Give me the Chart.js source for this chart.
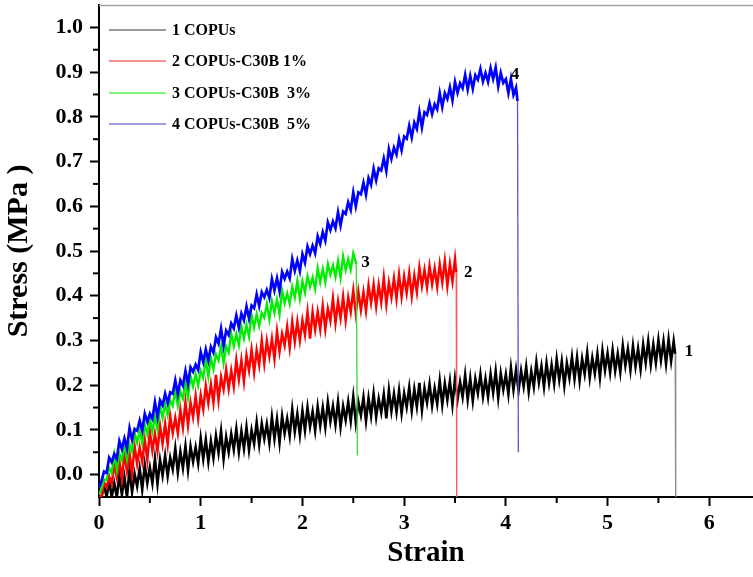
<!DOCTYPE html>
<html>
<head>
<meta charset="utf-8">
<script src="https://cdn.jsdelivr.net/npm/chart.js@4.4.1/dist/chart.umd.min.js"></script>
<style>
  html, body { margin: 0; padding: 0; background: #fff; }
  #wrap { width: 753px; height: 577px; }
</style>
</head>
<body>
<div id="wrap"><canvas id="myChart" width="753" height="577"></canvas></div>
<script>
/////////////////// DATA ///////////////////

// strain of the upper noise samples
const strain = [
  0, 0.05, 0.1, 0.15, 0.2, 0.25, 0.3, 0.35, 0.4, 0.45,
  0.5, 0.55, 0.6, 0.65, 0.7, 0.75, 0.8, 0.85, 0.9, 0.95,
  1.0, 1.05, 1.1, 1.15, 1.2, 1.25, 1.3, 1.35, 1.4, 1.45,
  1.5, 1.55, 1.6, 1.65, 1.7, 1.75, 1.8, 1.85, 1.9, 1.95,
  2.0, 2.05, 2.1, 2.15, 2.2, 2.25, 2.3, 2.35, 2.4, 2.45,
  2.5, 2.55, 2.6, 2.65, 2.7, 2.75, 2.8, 2.85, 2.9, 2.95,
  3.0, 3.05, 3.1, 3.15, 3.2, 3.25, 3.3, 3.35, 3.4, 3.45,
  3.5, 3.55, 3.6, 3.65, 3.7, 3.75, 3.8, 3.85, 3.9, 3.95,
  4.0, 4.05, 4.1, 4.15, 4.2, 4.25, 4.3, 4.35, 4.4, 4.45,
  4.5, 4.55, 4.6, 4.65, 4.7, 4.75, 4.8, 4.85, 4.9, 4.95,
  5.0, 5.05, 5.1, 5.15, 5.2, 5.25, 5.3, 5.35, 5.4, 5.45,
  5.5, 5.55, 5.6, 5.65
];
// strain of the lower noise samples (in between)
const strainHalf = [
  0.025, 0.075, 0.125, 0.175, 0.225, 0.275, 0.325, 0.375, 0.425, 0.475,
  0.525, 0.575, 0.625, 0.675, 0.725, 0.775, 0.825, 0.875, 0.925, 0.975,
  1.025, 1.075, 1.125, 1.175, 1.225, 1.275, 1.325, 1.375, 1.425, 1.475,
  1.525, 1.575, 1.625, 1.675, 1.725, 1.775, 1.825, 1.875, 1.925, 1.975,
  2.025, 2.075, 2.125, 2.175, 2.225, 2.275, 2.325, 2.375, 2.425, 2.475,
  2.525, 2.575, 2.625, 2.675, 2.725, 2.775, 2.825, 2.875, 2.925, 2.975,
  3.025, 3.075, 3.125, 3.175, 3.225, 3.275, 3.325, 3.375, 3.425, 3.475,
  3.525, 3.575, 3.625, 3.675, 3.725, 3.775, 3.825, 3.875, 3.925, 3.975,
  4.025, 4.075, 4.125, 4.175, 4.225, 4.275, 4.325, 4.375, 4.425, 4.475,
  4.525, 4.575, 4.625, 4.675, 4.725, 4.775, 4.825, 4.875, 4.925, 4.975,
  5.025, 5.075, 5.125, 5.175, 5.225, 5.275, 5.325, 5.375, 5.425, 5.475,
  5.525, 5.575, 5.625
];

// 1 COPUs
const stress1 = [
  -0.050, -0.024, -0.014, -0.019, -0.002, -0.006, 0.011, 0.002, 0.014, 0.022,
  0.016, 0.036, 0.033, 0.042, 0.038, 0.059, 0.051, 0.064, 0.063, 0.061,
  0.081, 0.078, 0.075, 0.087, 0.097, 0.084, 0.091, 0.102, 0.097, 0.106,
  0.099, 0.117, 0.114, 0.113, 0.129, 0.124, 0.131, 0.125, 0.146, 0.136,
  0.143, 0.150, 0.141, 0.152, 0.150, 0.162, 0.153, 0.163, 0.153, 0.163,
  0.174, 0.162, 0.173, 0.171, 0.181, 0.170, 0.180, 0.189, 0.181, 0.188,
  0.182, 0.195, 0.191, 0.205, 0.193, 0.202, 0.193, 0.210, 0.204, 0.209,
  0.214, 0.207, 0.223, 0.215, 0.214, 0.224, 0.214, 0.225, 0.231, 0.226,
  0.224, 0.239, 0.234, 0.232, 0.241, 0.231, 0.251, 0.242, 0.249, 0.245,
  0.258, 0.253, 0.249, 0.263, 0.262, 0.259, 0.273, 0.261, 0.270, 0.277,
  0.271, 0.278, 0.270, 0.288, 0.281, 0.288, 0.282, 0.291, 0.298, 0.291,
  0.301, 0.298, 0.302, 0.298
];
const stress1Half = [
  -0.050, -0.050, -0.050, -0.050, -0.045, -0.050, -0.039, -0.026, -0.033, -0.019,
  -0.019, -0.021, -0.002, -0.003, 0.012, 0.005, 0.015, 0.010, 0.029, 0.025,
  0.035, 0.029, 0.037, 0.049, 0.035, 0.050, 0.056, 0.051, 0.058, 0.055,
  0.069, 0.067, 0.080, 0.071, 0.080, 0.072, 0.092, 0.087, 0.096, 0.089,
  0.099, 0.107, 0.099, 0.109, 0.106, 0.119, 0.112, 0.107, 0.122, 0.120,
  0.117, 0.133, 0.120, 0.131, 0.129, 0.139, 0.126, 0.142, 0.140, 0.137,
  0.151, 0.143, 0.152, 0.144, 0.161, 0.154, 0.158, 0.156, 0.167, 0.156,
  0.168, 0.174, 0.168, 0.165, 0.182, 0.175, 0.174, 0.183, 0.172, 0.190,
  0.180, 0.190, 0.188, 0.197, 0.186, 0.196, 0.206, 0.196, 0.205, 0.203,
  0.212, 0.199, 0.216, 0.214, 0.210, 0.225, 0.217, 0.226, 0.217, 0.233,
  0.228, 0.232, 0.229, 0.244, 0.234, 0.242, 0.236, 0.250, 0.246, 0.250,
  0.256, 0.248, 0.254
];
const tailStrain1 = [5.665, 5.67];
const tailStress1 = [0.270, -0.05];

// 2 COPUs-C30B 1%
const stress2 = [
  -0.050, -0.017, -0.005, 0.024, 0.030, 0.049, 0.047, 0.064, 0.061, 0.078,
  0.096, 0.091, 0.109, 0.114, 0.131, 0.127, 0.145, 0.162, 0.161, 0.176,
  0.178, 0.199, 0.202, 0.223, 0.218, 0.235, 0.233, 0.256, 0.256, 0.267,
  0.279, 0.278, 0.300, 0.299, 0.304, 0.320, 0.315, 0.331, 0.342, 0.342,
  0.345, 0.364, 0.363, 0.364, 0.377, 0.371, 0.394, 0.387, 0.398, 0.396,
  0.412, 0.409, 0.408, 0.423, 0.425, 0.424, 0.440, 0.429, 0.439, 0.447,
  0.443, 0.451, 0.445, 0.463, 0.458, 0.466, 0.461, 0.470, 0.478, 0.471,
  0.482
];
const stress2Half = [
  -0.050, -0.029, -0.021, -0.006, -0.010, 0.008, 0.002, 0.024, 0.029, 0.033,
  0.054, 0.053, 0.069, 0.068, 0.093, 0.093, 0.105, 0.110, 0.129, 0.126,
  0.146, 0.160, 0.161, 0.167, 0.191, 0.192, 0.197, 0.213, 0.208, 0.233,
  0.229, 0.245, 0.249, 0.264, 0.259, 0.275, 0.289, 0.284, 0.297, 0.300,
  0.313, 0.304, 0.324, 0.325, 0.325, 0.344, 0.339, 0.350, 0.345, 0.364,
  0.361, 0.368, 0.366, 0.384, 0.376, 0.386, 0.381, 0.396, 0.393, 0.398,
  0.406, 0.399, 0.408, 0.422, 0.419, 0.426, 0.420, 0.430, 0.422, 0.432
];
const tailStrain2 = [3.512, 3.517];
const tailStress2 = [0.452, -0.05];

// 3 COPUs-C30B 3%
const stress3 = [
  -0.045, -0.011, 0.015, 0.045, 0.047, 0.068, 0.068, 0.095, 0.097, 0.112,
  0.126, 0.129, 0.155, 0.158, 0.167, 0.187, 0.186, 0.206, 0.221, 0.225,
  0.232, 0.257, 0.261, 0.269, 0.287, 0.287, 0.316, 0.315, 0.331, 0.335,
  0.357, 0.359, 0.362, 0.382, 0.388, 0.392, 0.412, 0.406, 0.420, 0.433,
  0.433, 0.444, 0.441, 0.462, 0.460, 0.471, 0.468, 0.478, 0.488, 0.482,
  0.495
];
const stress3Half = [
  -0.031, -0.012, 0.004, 0.010, 0.032, 0.034, 0.052, 0.071, 0.070, 0.090,
  0.096, 0.101, 0.127, 0.133, 0.154, 0.154, 0.170, 0.172, 0.197, 0.199,
  0.216, 0.219, 0.235, 0.255, 0.249, 0.273, 0.287, 0.289, 0.304, 0.308,
  0.329, 0.332, 0.351, 0.347, 0.362, 0.358, 0.383, 0.382, 0.396, 0.393,
  0.407, 0.420, 0.415, 0.430, 0.430, 0.447, 0.442, 0.440, 0.457, 0.458
];
const tailStrain3 = [2.53, 2.54];
const tailStress3 = [0.470, 0.043];

// 4 COPUs-C30B 5%
const stress4 = [
  -0.030, 0.007, 0.038, 0.046, 0.075, 0.081, 0.104, 0.102, 0.121, 0.136,
  0.136, 0.162, 0.166, 0.181, 0.184, 0.211, 0.211, 0.232, 0.240, 0.246,
  0.274, 0.280, 0.286, 0.307, 0.326, 0.322, 0.338, 0.356, 0.360, 0.376,
  0.378, 0.403, 0.408, 0.413, 0.437, 0.439, 0.453, 0.454, 0.482, 0.479,
  0.493, 0.510, 0.512, 0.533, 0.542, 0.564, 0.566, 0.587, 0.588, 0.609,
  0.631, 0.631, 0.653, 0.663, 0.684, 0.685, 0.707, 0.728, 0.731, 0.750,
  0.756, 0.780, 0.787, 0.811, 0.810, 0.830, 0.828, 0.853, 0.853, 0.866,
  0.878, 0.875, 0.894, 0.891, 0.893, 0.907, 0.898, 0.909, 0.910, 0.898,
  0.884, 0.885, 0.865
];
const stress4Half = [
  -0.014, 0.004, 0.028, 0.035, 0.057, 0.059, 0.078, 0.098, 0.098, 0.118,
  0.125, 0.129, 0.155, 0.160, 0.181, 0.180, 0.199, 0.203, 0.230, 0.234,
  0.252, 0.255, 0.273, 0.293, 0.288, 0.312, 0.327, 0.329, 0.345, 0.349,
  0.372, 0.377, 0.397, 0.395, 0.412, 0.410, 0.438, 0.439, 0.456, 0.455,
  0.474, 0.493, 0.495, 0.516, 0.523, 0.547, 0.551, 0.557, 0.583, 0.592,
  0.600, 0.627, 0.626, 0.648, 0.658, 0.680, 0.679, 0.706, 0.716, 0.725,
  0.751, 0.754, 0.773, 0.776, 0.804, 0.806, 0.817, 0.822, 0.840, 0.837,
  0.854, 0.864, 0.861, 0.863, 0.883, 0.879, 0.878, 0.885, 0.868, 0.876,
  0.853, 0.849
];
const tailStrain4 = [4.115, 4.123];
const tailStress4 = [0.835, 0.05];

const seriesNames = ["1 COPUs", "2 COPUs-C30B 1%", "3 COPUs-C30B  3%", "4 COPUs-C30B  5%"];
const curveTags = ["1", "2", "3", "4"];
const tagStrain = [5.80, 3.63, 2.62, 4.09];
const tagStress = [0.274, 0.451, 0.474, 0.895];

const xTicks = [0, 1, 2, 3, 4, 5, 6];
const xMinor = [0.5, 1.5, 2.5, 3.5, 4.5, 5.5];
const yTicks = [0, 0.1, 0.2, 0.3, 0.4, 0.5, 0.6, 0.7, 0.8, 0.9, 1.0];
const yMinor = [0.05, 0.15, 0.25, 0.35, 0.45, 0.55, 0.65, 0.75, 0.85, 0.95];

/////////////////// BUILD ///////////////////

const lineColors = ["#000000", "#ff0000", "#00ee00", "#0000ff"];
const dropColors = ["#8a8a8a", "#ff5a5a", "#33dd33", "#5555dd"];
const legendColors = ["#7a7a7a", "#ee6a6a", "#55ee55", "#7f7fd0"];
const lineWidths = [2.6, 2.5, 2.3, 2.7];

// zip the upper and lower samples into one noisy trace, then add the break
function buildSeries(peaks, troughs, tailX, tailY) {
  const pts = [];
  peaks.forEach((v, i) => {
    pts.push({ x: strain[i], y: v });
    if (i < troughs.length) pts.push({ x: strainHalf[i], y: troughs[i] });
  });
  tailX.forEach((s, i) => pts.push({ x: s, y: tailY[i] }));
  return pts;
}

const allPeaks = [stress1, stress2, stress3, stress4];
const allTroughs = [stress1Half, stress2Half, stress3Half, stress4Half];
const allTailX = [tailStrain1, tailStrain2, tailStrain3, tailStrain4];
const allTailY = [tailStress1, tailStress2, tailStress3, tailStress4];

const datasets = allPeaks.map((vals, k) => ({
  label: seriesNames[k],
  data: buildSeries(vals, allTroughs[k], allTailX[k], allTailY[k]),
  borderColor: lineColors[k],
  borderWidth: lineWidths[k],
  borderJoinStyle: "miter",
  pointRadius: 0,
  tension: 0,
  order: 4 - k,
  segment: {
    borderColor: ctx => (ctx.p0.parsed.y - ctx.p1.parsed.y > 0.15 ? dropColors[k] : undefined),
    borderWidth: ctx => (ctx.p0.parsed.y - ctx.p1.parsed.y > 0.15 ? 1.3 : undefined)
  }
}));

const serif = "'Liberation Serif', 'Times New Roman', serif";

const decorations = {
  id: "decorations",
  afterDraw(chart) {
    const { ctx, chartArea, scales } = chart;
    const x = scales.x, y = scales.y;
    ctx.save();
    // top frame line
    ctx.strokeStyle = "#a0a0a0";
    ctx.lineWidth = 1.5;
    ctx.beginPath();
    ctx.moveTo(chartArea.left, chartArea.top + 0.5);
    ctx.lineTo(chartArea.right, chartArea.top + 0.5);
    ctx.stroke();
    // minor ticks
    ctx.strokeStyle = "#000";
    ctx.lineWidth = 2;
    xMinor.forEach(v => {
      const px = x.getPixelForValue(v);
      ctx.beginPath();
      ctx.moveTo(px, chartArea.bottom);
      ctx.lineTo(px, chartArea.bottom + 6);
      ctx.stroke();
    });
    yMinor.forEach(v => {
      const py = y.getPixelForValue(v);
      ctx.beginPath();
      ctx.moveTo(chartArea.left, py);
      ctx.lineTo(chartArea.left - 6, py);
      ctx.stroke();
    });
    // legend
    const rows = [30, 61, 93, 124];
    ctx.font = "bold 16px " + serif;
    ctx.textBaseline = "middle";
    ctx.textAlign = "left";
    seriesNames.forEach((name, k) => {
      ctx.strokeStyle = legendColors[k];
      ctx.lineWidth = 1.3;
      ctx.beginPath();
      ctx.moveTo(109, rows[k]);
      ctx.lineTo(166, rows[k]);
      ctx.stroke();
      ctx.fillStyle = "#000";
      ctx.fillText(name, 172, rows[k] + 1);
    });
    // curve numbers
    ctx.font = "bold 17px " + serif;
    ctx.textAlign = "center";
    curveTags.forEach((t, k) => {
      ctx.fillText(t, x.getPixelForValue(tagStrain[k]), y.getPixelForValue(tagStress[k]));
    });
    ctx.restore();
  }
};

const config = {
  type: "line",
  data: { datasets: datasets },
  options: {
    responsive: false,
    animation: false,
    layout: { padding: { top: 5, right: 0, bottom: 0, left: 0 } },
    plugins: { legend: { display: false }, tooltip: { enabled: false } },
    scales: {
      x: {
        type: "linear",
        min: 0,
        max: 6.43,
        afterBuildTicks: scale => { scale.ticks = xTicks.map(v => ({ value: v })); },
        afterFit: scale => {
          scale.height = 80;
          scale.paddingLeft = 0;
          scale.paddingRight = 0;
        },
        ticks: {
          color: "#000",
          padding: 4,
          maxRotation: 0,
          font: { family: serif, weight: "bold", size: 22 },
          callback: v => String(v)
        },
        grid: { drawOnChartArea: false, tickLength: 9, tickWidth: 2, tickColor: "#000" },
        border: { color: "#000", width: 2 },
        title: {
          display: true,
          text: "Strain",
          color: "#000",
          font: { family: serif, weight: "bold", size: 29 },
          padding: { top: 0, bottom: 6 }
        }
      },
      y: {
        type: "linear",
        min: -0.05,
        max: 1.05,
        afterBuildTicks: scale => { scale.ticks = yTicks.map(v => ({ value: v })); },
        afterFit: scale => {
          scale.width = 99;
          scale.paddingTop = 0;
          scale.paddingBottom = 0;
        },
        ticks: {
          color: "#000",
          padding: 7,
          font: { family: serif, weight: "bold", size: 22 },
          callback: v => v.toFixed(1)
        },
        grid: { drawOnChartArea: false, tickLength: 9, tickWidth: 2, tickColor: "#000" },
        border: { color: "#000", width: 2 },
        title: {
          display: true,
          text: "Stress (MPa )",
          color: "#000",
          font: { family: serif, weight: "bold", size: 30 },
          padding: { top: 1, bottom: 0 }
        }
      }
    }
  },
  plugins: [decorations]
};

const myChart = new Chart(document.getElementById("myChart"), config);
</script>
</body>
</html>
